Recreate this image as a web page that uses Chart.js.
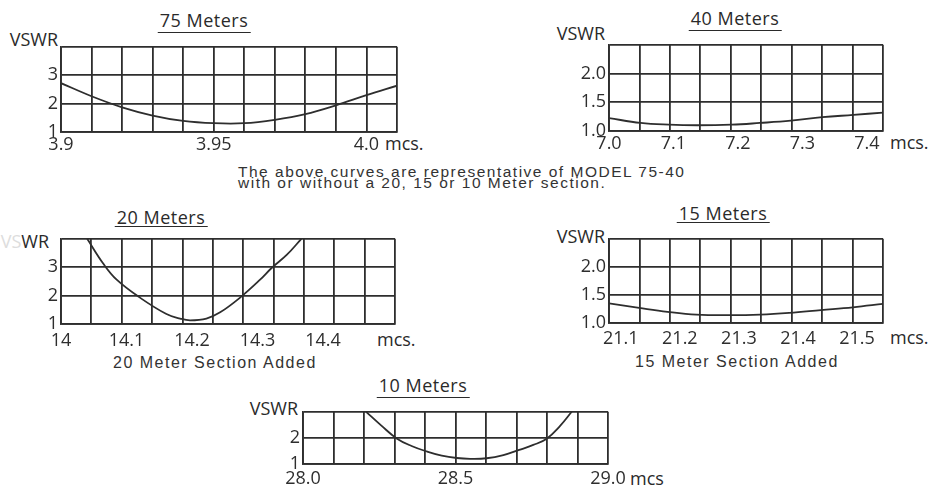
<!DOCTYPE html>
<html>
<head>
<meta charset="utf-8">
<script src="https://cdn.jsdelivr.net/npm/chart.js@4.4.1/dist/chart.umd.min.js"></script>
<style>
  body { margin: 0; width: 930px; height: 486px; background: #fff; position: relative; overflow: hidden;
         font-family: "Open Sans", sans-serif; color: #2a2a2a; }
  .box { position: absolute; }
  .title { position: absolute; font-size: 18px; line-height: 18px; letter-spacing: 0.5px; border-bottom: 1.5px solid #2a2a2a;
           transform: translateX(-50%); white-space: nowrap; padding: 0 2px; }
  .lbl { position: absolute; font-size: 18px; line-height: 18px; white-space: nowrap; }
  .vswr { position: absolute; font-size: 18px; line-height: 18px; width: 60px; text-align: right; }
  .cap { position: absolute; font-family: "Liberation Sans", Arial, sans-serif; font-size: 15.5px; line-height: 16px;
         letter-spacing: 1.5px; white-space: nowrap; color: #333; }
  .cap2 { font-size: 16px; }
</style>
</head>
<body>

<div class="title" style="left:204px; top:11px; padding-bottom:3px;">75 Meters</div>
<div class="title" style="left:735px; top:9px; padding-bottom:3px;">40 Meters</div>
<div class="title" style="left:161px; top:208px; padding-bottom:0px;">20 Meters</div>
<div class="title" style="left:723px; top:204px; padding-bottom:0px;">15 Meters</div>
<div class="title" style="left:423px; top:376px; padding-bottom:3px;">10 Meters</div>

<div class="vswr" style="left:-2px; top:30px;">VSWR</div>
<div class="vswr" style="left:545px; top:24px;">VSWR</div>
<div class="vswr" style="left:-11px; top:232px;"><span style="color:#ddd">VS</span>WR</div>
<div class="vswr" style="left:545px; top:227px;">VSWR</div>
<div class="vswr" style="left:238px; top:399px;">VSWR</div>

<div class="lbl" style="left:385px; top:134px;">mcs.</div>
<div class="lbl" style="left:890px; top:133px;">mcs.</div>
<div class="lbl" style="left:377px; top:330px;">mcs.</div>
<div class="lbl" style="left:890px; top:328px;">mcs.</div>
<div class="lbl" style="left:630px; top:469px;">mcs</div>

<div class="cap" style="left:238px; top:164px;">The above curves are representative of MODEL 75-40</div>
<div class="cap" style="left:238px; top:175px;">with or without a 20, 15 or 10 Meter section.</div>
<div class="cap cap2" style="left:113px; top:355px;">20 Meter Section Added</div>
<div class="cap cap2" style="left:635px; top:354px;">15 Meter Section Added</div>

<div class="box" id="b75"><canvas id="c75"></canvas></div>
<div class="box" id="b40"><canvas id="c40"></canvas></div>
<div class="box" id="b20"><canvas id="c20"></canvas></div>
<div class="box" id="b15"><canvas id="c15"></canvas></div>
<div class="box" id="b10"><canvas id="c10"></canvas></div>

<script>
// 75 Meters
const freq75 = [3.90, 3.91, 3.92, 3.93, 3.94, 3.95, 3.96, 3.97, 3.98, 3.99, 4.00, 4.01];
const vswr75 = [2.72, 2.26, 1.87, 1.58, 1.39, 1.31, 1.31, 1.43, 1.63, 1.94, 2.30, 2.63];
const xTicks75 = [3.9, 3.95, 4.0];
const xLabels75 = ['3.9', '3.95', '4.0'];
const yTicks75 = [1, 2, 3, 4];
const yLabels75 = ['1', '2', '3', ''];

// 40 Meters
const freq40 = [7.000, 7.049, 7.093, 7.137, 7.190, 7.234, 7.282, 7.331, 7.379, 7.425];
const vswr40 = [1.225, 1.14, 1.11, 1.10, 1.11, 1.14, 1.18, 1.24, 1.28, 1.32];
const xTicks40 = [7.0, 7.1, 7.2, 7.3, 7.4];
const xLabels40 = ['7.0', '7.1', '7.2', '7.3', '7.4'];
const yTicks40 = [1.0, 1.5, 2.0, 2.5];
const yLabels40 = ['1.0', '1.5', '2.0', ''];

// 20 Meters
const freq20 = [14.040, 14.065, 14.085, 14.121, 14.161, 14.182, 14.197, 14.222, 14.243, 14.273, 14.304, 14.322, 14.345, 14.367];
const vswr20 = [4.0, 3.11, 2.56, 1.92, 1.35, 1.19, 1.13, 1.19, 1.41, 1.92, 2.56, 2.98, 3.44, 4.0];
const xTicks20 = [14.0, 14.1, 14.2, 14.3, 14.4];
const xLabels20 = ['14', '14.1', '14.2', '14.3', '14.4'];
const yTicks20 = [1, 2, 3, 4];
const yLabels20 = ['1', '2', '3', ''];

// 15 Meters
const freq15 = [21.080, 21.131, 21.179, 21.228, 21.286, 21.336, 21.385, 21.439, 21.493, 21.544];
const vswr15 = [1.35, 1.27, 1.20, 1.15, 1.14, 1.15, 1.18, 1.23, 1.28, 1.34];
const xTicks15 = [21.1, 21.2, 21.3, 21.4, 21.5];
const xLabels15 = ['21.1', '21.2', '21.3', '21.4', '21.5'];
const yTicks15 = [1.0, 1.5, 2.0, 2.5];
const yLabels15 = ['1.0', '1.5', '2.0', ''];

// 10 Meters
const freq10 = [28.207, 28.257, 28.307, 28.356, 28.406, 28.455, 28.504, 28.548, 28.602, 28.657, 28.709, 28.755, 28.799, 28.843, 28.881];
const vswr10 = [3.0, 2.47, 1.98, 1.69, 1.48, 1.32, 1.23, 1.20, 1.22, 1.34, 1.54, 1.73, 1.97, 2.46, 3.0];
const xTicks10 = [28.0, 28.5, 29.0];
const xLabels10 = ['28.0', '28.5', '29.0'];
const yTicks10 = [1, 2, 3];
const yLabels10 = ['1', '2', ''];

const INK = '#2e2e2e';
const PL = 60, PT = 8, PR = 45, PB = 30;

function vswrChart(id, area, xMin, xMax, cols, xTicks, xLabels, yTicks, yLabels, freqs, vswr, labelPad) {
  const box = document.getElementById('b' + id);
  box.style.left = (area.l - PL) + 'px';
  box.style.top = (area.t - PT) + 'px';
  box.style.width = (area.r - area.l + PL + PR) + 'px';
  box.style.height = (area.b - area.t + PT + PB) + 'px';

  const tickFont = { family: 'Open Sans', size: 18 };
  const gridStyle = { color: INK, lineWidth: 1.8, drawTicks: false };

  new Chart(document.getElementById('c' + id), {
    type: 'line',
    data: {
      datasets: [{
        data: freqs.map((f, i) => ({ x: f, y: vswr[i] })),
        borderColor: INK,
        borderWidth: 1.8,
        pointRadius: 0,
        tension: 0.4,
        xAxisID: 'x'
      }]
    },
    options: {
      responsive: true,
      maintainAspectRatio: false,
      animation: false,
      devicePixelRatio: 1,
      layout: { padding: { top: PT, right: PR, left: 0, bottom: 0 }, autoPadding: false },
      plugins: { legend: { display: false }, tooltip: { enabled: false } },
      scales: {
        x: {
          type: 'linear', min: xMin, max: xMax, position: 'bottom',
          ticks: { display: false, count: cols + 1 },
          grid: gridStyle,
          border: { display: true, color: INK, width: 1.8 },
          afterFit: s => { s.height = 0; }
        },
        xl: {
          type: 'linear', min: xMin, max: xMax, position: 'bottom',
          afterBuildTicks: s => { s.ticks = xTicks.map(v => ({ value: v })); },
          ticks: { callback: (v, i) => xLabels[i], padding: labelPad, maxRotation: 0, autoSkip: false, font: tickFont, color: INK },
          grid: { display: false, drawTicks: false },
          border: { display: false },
          afterFit: s => { s.height = PB; }
        },
        y: {
          type: 'linear', min: yTicks[0], max: yTicks[yTicks.length - 1],
          afterBuildTicks: s => { s.ticks = yTicks.map(v => ({ value: v })); },
          ticks: { callback: (v, i) => yLabels[i], padding: 3, font: tickFont, color: INK },
          grid: gridStyle,
          border: { display: true, color: INK, width: 1.8 },
          afterFit: s => { s.width = PL; }
        }
      }
    }
  });
}

vswrChart('75', { l: 61, t: 41, r: 397, b: 132 }, 3.90, 4.01, 11, xTicks75, xLabels75, yTicks75, yLabels75, freq75, vswr75, 2);
vswrChart('40', { l: 609, t: 39, r: 883, b: 131 }, 7.0, 7.425, 9, xTicks40, xLabels40, yTicks40, yLabels40, freq40, vswr40, 2);
vswrChart('20', { l: 61, t: 233, r: 395, b: 324 }, 14.0, 14.51, 11, xTicks20, xLabels20, yTicks20, yLabels20, freq20, vswr20, 6);
vswrChart('15', { l: 609, t: 233, r: 883, b: 323 }, 21.08, 21.544, 9, xTicks15, xLabels15, yTicks15, yLabels15, freq15, vswr15, 5);
vswrChart('10', { l: 303, t: 406, r: 608, b: 464 }, 28.0, 29.0, 10, xTicks10, xLabels10, yTicks10, yLabels10, freq10, vswr10, 4);
</script>
</body>
</html>
